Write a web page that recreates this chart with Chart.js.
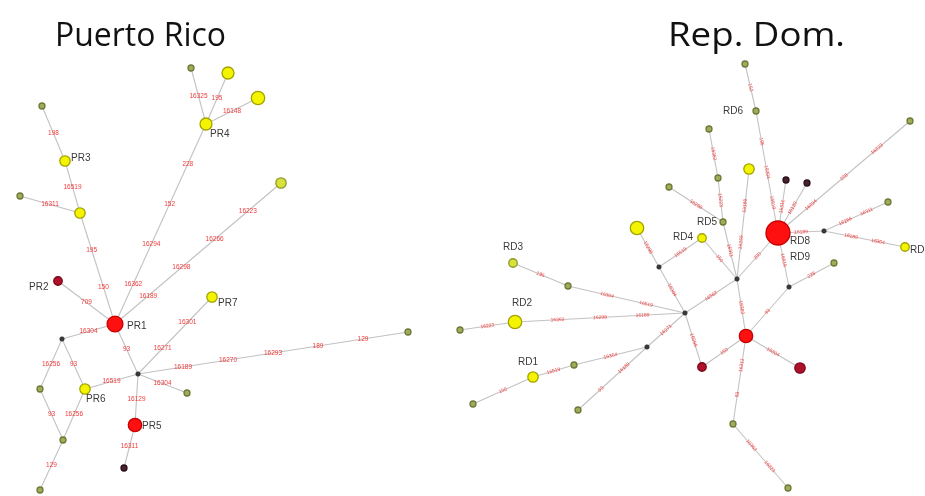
<!DOCTYPE html>
<html><head><meta charset="utf-8">
<script src="https://cdn.jsdelivr.net/npm/chart.js@4/dist/chart.umd.min.js"></script>
<style>html,body{margin:0;padding:0;background:#fff}#wrap{width:925px;height:496px;position:relative}</style>
</head><body><div id="wrap"><canvas id="c"></canvas></div>
<script>
// ---------- DATA ----------
const titles = ["Puerto Rico", "Rep. Dom."];

// Puerto Rico haplotype network
const prNodeX = [115, 58, 65, 80, 42, 20, 206, 191, 228, 258, 281, 212, 138, 408, 187, 135, 124, 85, 62, 40, 63, 40];
const prNodeY = [324, 281, 161, 213, 106, 196, 124, 68, 73, 98, 183, 297, 374, 332, 393, 425, 468, 389, 339, 389, 440, 490];
const prNodeType = ["red","darkred","yellow","yellow","olive","olive","yellow","olive","yellow","yellow","lime","yellow","mv","olive","olive","red","dark","yellow","mv","olive","olive","olive"];
const prNodeFreq = [7, 2, 3, 3, 1, 1, 4, 1, 4, 5, 3, 3, 0, 1, 1, 5, 1, 3, 0, 1, 1, 1];
const prEdgeFrom = [0, 0, 3, 2, 3, 0, 0, 6, 6, 6, 0, 18, 18, 19, 17, 20, 0, 12, 12, 12, 12, 12, 15];
const prEdgeTo   = [1, 3, 2, 4, 5, 6, 10, 7, 8, 9, 18, 19, 17, 20, 20, 21, 12, 11, 13, 14, 17, 15, 16];
const prEdgeMut = [
  ["709"], ["150","195"], ["16519"], ["198"], ["16311"],
  ["16362","16294","152","228"], ["16189","16298","16266","16223"],
  ["16325"], ["195"], ["16148"], ["16304"], ["16256"], ["93"], ["93"], ["16256"], ["129"],
  ["93"], ["16271","16301"], ["16189","16270","16293","189","129"], ["16304"], ["16519"], ["16129"], ["16311"]
];
const prLabels = ["PR1","PR2","PR3","PR4","PR5","PR6","PR7"];
const prLabelNode = [0, 1, 2, 6, 15, 17, 11];

// Rep. Dom. haplotype network
const rdNodeX = [778, 745, 756, 709, 718, 749, 786, 807, 910, 888, 824, 905, 723, 702, 669, 637, 659, 737, 789, 834, 685, 513, 568, 515, 460, 647, 574, 533, 473, 578, 746, 702, 800, 733, 788];
const rdNodeY = [233, 64, 111, 129, 178, 169, 180, 183, 121, 202, 231, 247, 222, 238, 187, 228, 267, 279, 287, 263, 313, 263, 286, 322, 330, 347, 365, 377, 404, 410, 336, 367, 368, 424, 488];
const rdNodeType = ["red","olive","olive","olive","olive","yellow","dark","dark","olive","olive","mv","yellow","olive","yellow","olive","yellow","mv","mv","mv","olive","mv","lime","olive","yellow","olive","mv","olive","yellow","olive","olive","red","darkred","darkred","olive","olive"];
const rdNodeFreq = [16, 1, 1, 1, 1, 3, 1, 1, 1, 1, 0, 2, 1, 2, 1, 5, 0, 0, 0, 1, 0, 2, 1, 5, 1, 0, 1, 3, 1, 1, 5, 2, 3, 1, 1];
const rdEdgeFrom = [1, 2, 3, 4, 12, 14, 5, 13, 13, 15, 16, 17, 0, 0, 0, 0, 0, 10, 10, 0, 18, 18, 17, 30, 30, 20, 30, 33, 20, 22, 20, 23, 20, 25, 26, 27, 25];
const rdEdgeTo   = [2, 0, 4, 12, 17, 12, 17, 17, 16, 16, 20, 20, 17, 6, 7, 8, 10, 9, 11, 18, 19, 30, 30, 32, 31, 31, 33, 34, 22, 21, 23, 24, 25, 26, 27, 28, 29];
const rdEdgeMut = [
  ["152"], ["195","16304","16519"], ["16362"], ["16223"], ["16311"], ["16298"], ["16189","16266"],
  ["150"], ["16519"], ["16298"], ["16304"], ["16362"], ["200"], ["16311"], ["16129"],
  ["16294","228","16223"], ["16189"], ["16266","16311"], ["16189","16304"], ["16519"], ["228"],
  ["93"], ["16362"], ["16304"], ["150"], ["16298"], ["16311","93"], ["16362","16223"],
  ["16519","16304"], ["195"], ["16189","16298","16362"], ["16223"], ["16271"], ["16304"], ["16519"], ["150"], ["16189","93"]
];
const rdLabels = ["RD1","RD2","RD3","RD4","RD5","RD6","RD7","RD8","RD9"];
const rdLabelNode = [27, 23, 21, 13, 12, 2, 11, 0, 0];

// ---------- STYLE / LAYOUT ----------
const typeStyle = {
  red:     {fill:"#ff1010", border:"#c80000"},
  darkred: {fill:"#b0102a", border:"#7a0a18"},
  yellow:  {fill:"#f4f400", border:"#a3a300"},
  lime:    {fill:"#d8e23a", border:"#8c9a28"},
  olive:   {fill:"#a2ac58", border:"#6e7838"},
  dark:    {fill:"#4a2030", border:"#2a1018"},
  mv:      {fill:"#3a3a3a", border:"#222222"}
};
function radiusFor(type, n) {
  if (type === "mv") return 2.3;
  return 3 * Math.sqrt(n);
}
const labelOffset = {
  PR1:[12,2], PR2:[-29,6], PR3:[6,-3], PR4:[4,10], PR5:[7,1], PR6:[1,10], PR7:[6,6],
  RD1:[-15,-15], RD2:[-3,-19], RD3:[-10,-16], RD4:[-29,-1], RD5:[-26,0], RD6:[-33,0], RD7:[5,3], RD8:[12,8], RD9:[12,24]
};
const titleBox = [[55, 226, 46], [668, 845, 46]]; // left, right, baseline

// ---------- BUILD ----------
const networks = [
  {X:prNodeX, Y:prNodeY, T:prNodeType, F:prNodeFreq, EF:prEdgeFrom, ET:prEdgeTo, EM:prEdgeMut, L:prLabels, LN:prLabelNode, rotate:false, mutFont:6.5},
  {X:rdNodeX, Y:rdNodeY, T:rdNodeType, F:rdNodeFreq, EF:rdEdgeFrom, ET:rdEdgeTo, EM:rdEdgeMut, L:rdLabels, LN:rdLabelNode, rotate:true, mutFont:5}
];
const datasets = [];
networks.forEach(net => {
  net.EF.forEach((a, i) => {
    const b = net.ET[i];
    datasets.push({
      data: [{x:net.X[a], y:net.Y[a]}, {x:net.X[b], y:net.Y[b]}],
      showLine: true, borderColor: "#c2c2c2", borderWidth: 1.1,
      pointRadius: 0, order: 2, clip: false
    });
  });
});
networks.forEach(net => {
  datasets.push({
    data: net.X.map((x, i) => ({x, y: net.Y[i]})),
    showLine: false,
    pointRadius: net.T.map((t, i) => radiusFor(t, net.F[i])),
    pointBackgroundColor: net.T.map(t => typeStyle[t].fill),
    pointBorderColor: net.T.map(t => typeStyle[t].border),
    pointBorderWidth: net.T.map(t => t === "mv" ? 0.5 : 1.3),
    order: 1, clip: false
  });
});

const textPlugin = {
  id: "netText",
  afterDatasetsDraw(chart) {
    const ctx = chart.ctx, xs = chart.scales.x, ys = chart.scales.y;
    ctx.save();
    networks.forEach(net => {
      ctx.fillStyle = "#f23a3a";
      ctx.font = net.mutFont + "px 'Liberation Sans', Arial, sans-serif";
      ctx.textAlign = "center"; ctx.textBaseline = "middle";
      net.EF.forEach((a, i) => {
        const b = net.ET[i];
        const x1 = xs.getPixelForValue(net.X[a]), y1 = ys.getPixelForValue(net.Y[a]);
        const x2 = xs.getPixelForValue(net.X[b]), y2 = ys.getPixelForValue(net.Y[b]);
        const muts = net.EM[i], k = muts.length;
        let ang = Math.atan2(y2 - y1, x2 - x1);
        if (ang > Math.PI / 2) ang -= Math.PI;
        if (ang < -Math.PI / 2) ang += Math.PI;
        muts.forEach((m, j) => {
          const t = (j + 1) / (k + 1);
          const px = x1 + (x2 - x1) * t, py = y1 + (y2 - y1) * t;
          ctx.save();
          ctx.translate(px, py);
          if (net.rotate) ctx.rotate(ang);
          ctx.fillText(m, 0, 0);
          ctx.restore();
        });
      });
      ctx.fillStyle = "#3a3a3a";
      ctx.font = "10px 'Liberation Sans', Arial, sans-serif";
      ctx.textAlign = "left"; ctx.textBaseline = "middle";
      net.L.forEach((lab, i) => {
        const n = net.LN[i], off = labelOffset[lab];
        ctx.fillText(lab, xs.getPixelForValue(net.X[n]) + off[0], ys.getPixelForValue(net.Y[n]) + off[1]);
      });
    });
    ctx.fillStyle = "#111";
    ctx.font = "32px 'Open Sans', sans-serif";
    ctx.textAlign = "left"; ctx.textBaseline = "alphabetic";
    titles.forEach((t, i) => {
      const [l, r, base] = titleBox[i];
      const w = ctx.measureText(t).width;
      ctx.save();
      ctx.translate(l, base);
      ctx.scale((r - l) / w, 1);
      ctx.fillText(t, 0, 0);
      ctx.restore();
    });
    ctx.restore();
  }
};

new Chart(document.getElementById("c"), {
  type: "scatter",
  data: {datasets},
  options: {
    responsive: true, maintainAspectRatio: false, animation: false, events: [],
    layout: {padding: 0, autoPadding: false},
    plugins: {legend: {display: false}, tooltip: {enabled: false}, title: {display: false}},
    scales: {
      x: {type: "linear", min: 0, max: 925, display: false},
      y: {type: "linear", min: 0, max: 496, reverse: true, display: false}
    }
  },
  plugins: [textPlugin]
});
</script></body></html>
